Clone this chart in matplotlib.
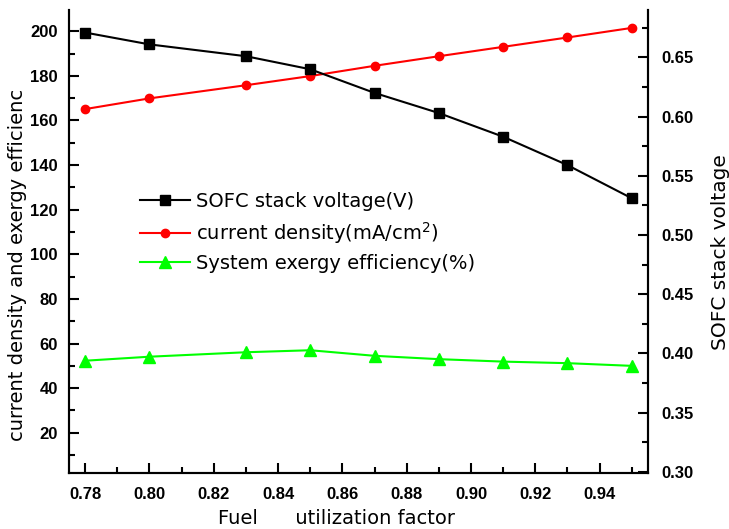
import numpy as np
import matplotlib
matplotlib.use('Agg')
import matplotlib.pyplot as plt
from matplotlib import font_manager
from matplotlib.ticker import MultipleLocator, FormatStrFormatter

# data
fuelUtil = [0.78, 0.80, 0.83, 0.85, 0.87, 0.89, 0.91, 0.93, 0.95]
stackVoltage = [0.671, 0.661, 0.651, 0.640, 0.620, 0.603, 0.583, 0.559, 0.531]
currentDensity = [165.1, 169.9, 175.8, 179.9, 184.5, 188.8, 193.0, 197.2, 201.5]
exergyEff = [52.3, 54.1, 56.1, 57.0, 54.5, 53.0, 51.9, 51.2, 50.0]

plt.rcParams['font.family'] = ['DejaVu Sans']

# bold Liberation Sans (not the Narrow variant) for the tick numbers
boldFile = None
for f in font_manager.fontManager.ttflist:
    if f.name == 'Liberation Sans' and f.weight in (700, 'bold') and f.style == 'normal' \
            and 'Narrow' not in f.fname:
        boldFile = f.fname
        break
if boldFile:
    tickFont = font_manager.FontProperties(fname=boldFile, size=12)
else:
    tickFont = font_manager.FontProperties(family='DejaVu Sans', weight='bold', size=10)

fig = plt.figure(figsize=(7.29, 5.29), dpi=100)
ax1 = fig.add_axes([0.0947, 0.106, 0.794, 0.875])
ax2 = ax1.twinx()

l2, = ax1.plot(fuelUtil, currentDensity, color='red', marker='o', markersize=6, lw=1.5,
               label='current density(mA/cm$^2$)')
l3, = ax1.plot(fuelUtil, exergyEff, color='#00ff00', marker='^', markersize=8, lw=1.5,
               label='System exergy efficiency(%)')
l1, = ax2.plot(fuelUtil, stackVoltage, color='black', marker='s', markersize=6.5, lw=1.5,
               label='SOFC stack voltage(V)')

ax1.set_xlim(0.775, 0.955)
ax1.set_ylim(2, 209.5)
ax2.set_ylim(0.299, 0.690)

ax1.xaxis.set_major_locator(MultipleLocator(0.02))
ax1.xaxis.set_minor_locator(MultipleLocator(0.01))
ax1.yaxis.set_minor_locator(MultipleLocator(10))
ax2.yaxis.set_minor_locator(MultipleLocator(0.025))
ax1.set_yticks(np.arange(20, 201, 20))
ax2.set_yticks(np.arange(0.30, 0.66, 0.05))
ax1.xaxis.set_major_formatter(FormatStrFormatter('%.2f'))
ax2.yaxis.set_major_formatter(FormatStrFormatter('%.2f'))

for ax in (ax1, ax2):
    ax.spines['top'].set_visible(False)
    for s in ax.spines.values():
        s.set_linewidth(1.5)
    ax.tick_params(which='major', direction='in', length=7, width=1.5)
    ax.tick_params(which='minor', direction='in', length=4, width=1.5)
    for t in ax.get_xticklabels() + ax.get_yticklabels():
        t.set_fontproperties(tickFont)
ax1.tick_params(axis='x', pad=10)
ax1.tick_params(axis='y', pad=8)
ax2.tick_params(axis='y', pad=10)

ax1.set_xlabel('Fuel      utilization factor', fontsize=14)
ax1.xaxis.set_label_coords(0.462, -0.079)
ax1.set_ylabel('current density and exergy efficienc', fontsize=14)
ax1.yaxis.set_label_coords(-0.072, 0.449)
ax2.set_ylabel('SOFC stack voltage', fontsize=14.5)
ax2.yaxis.set_label_coords(1.109, 0.477)

ax2.legend(handles=[l1, l2, l3], loc='upper left', bbox_to_anchor=(0.109, 0.624),
           borderaxespad=0, frameon=False, fontsize=14, handlelength=2.6,
           handletextpad=0.3, labelspacing=0.45)

plt.savefig('out.png', dpi=100)
